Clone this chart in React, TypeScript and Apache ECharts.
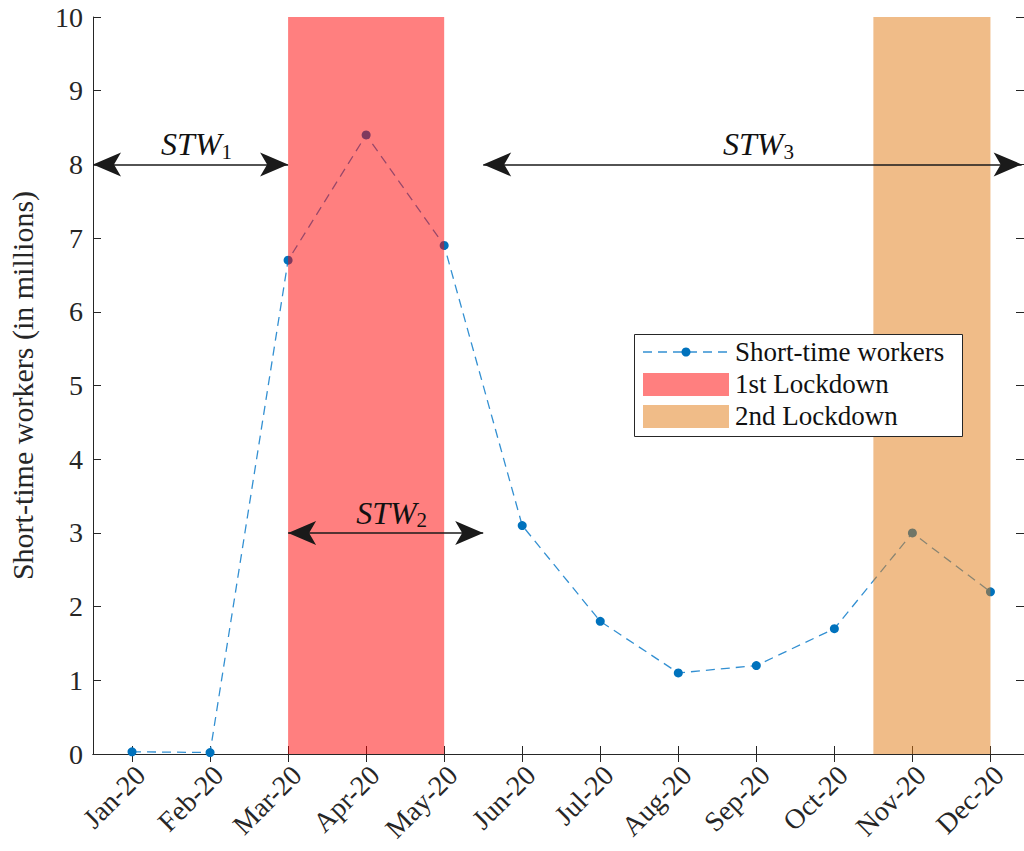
import { useEffect, useRef } from 'react';
import * as echarts from 'echarts';

// Monthly short-time workers in Germany, 2020 (millions)
const months = ['Jan-20', 'Feb-20', 'Mar-20', 'Apr-20', 'May-20', 'Jun-20', 'Jul-20', 'Aug-20', 'Sep-20', 'Oct-20', 'Nov-20', 'Dec-20'];
const monthPos = [1, 2, 3, 4, 5, 6, 7, 8, 9, 10, 11, 12];
const workers = [0.03, 0.02, 6.7, 8.4, 6.9, 3.1, 1.8, 1.1, 1.2, 1.7, 3.0, 2.2];

// Lockdown periods on the month axis
const firstLockdown = [3, 5];
const secondLockdown = [10.5, 12];

// Short-time work phases: index, start, end, height of the arrow
const stwIndex = ['1', '2', '3'];
const stwStart = [0.5, 3, 5.5];
const stwEnd = [3, 5.5, 12.4];
const stwLevel = [8, 3, 8];

const X_MIN = 0.5;
const X_MAX = 12.43;
const INK = '#262626';
const FONT = '"Liberation Serif", "DejaVu Serif", serif';

function buildOption(): echarts.EChartsOption {
  const axisCommon = {
    axisLine: { show: true, lineStyle: { color: INK, width: 1 } },
    splitLine: { show: false },
  };
  return {
    animation: false,
    backgroundColor: '#ffffff',
    grid: { left: 93, right: 0, top: 17, bottom: 97, containLabel: false, outerBoundsMode: 'none' } as any,
    xAxis: [
      {
        type: 'value',
        min: X_MIN,
        max: X_MAX,
        position: 'bottom',
        ...axisCommon,
        axisTick: { show: true, inside: true, length: 8, customValues: monthPos, lineStyle: { color: INK } },
        axisLabel: {
          show: true,
          customValues: monthPos,
          rotate: 45,
          margin: 8,
          color: INK,
          fontFamily: FONT,
          fontSize: 28,
          formatter: (v: number) => `{m|${months[Math.round(v) - 1] ?? ''}}`,
          rich: {
            m: { fontFamily: FONT, fontSize: 28, color: INK, padding: [24, 0, 0, 0] },
          },
        },
      } as any,
      {
        type: 'value',
        min: X_MIN,
        max: X_MAX,
        position: 'top',
        ...axisCommon,
        axisTick: { show: true, inside: true, length: 8, customValues: monthPos, lineStyle: { color: INK } },
        axisLabel: { show: false },
      } as any,
    ],
    yAxis: [
      {
        type: 'value',
        min: 0,
        max: 10,
        interval: 1,
        position: 'left',
        ...axisCommon,
        axisTick: { show: true, inside: true, length: 8, lineStyle: { color: INK } },
        axisLabel: { color: INK, fontFamily: FONT, fontSize: 28, margin: 10 },
        name: 'Short-time workers (in millions)',
        nameLocation: 'middle',
        nameGap: 56,
        nameRotate: 90,
        nameTextStyle: { color: INK, fontFamily: FONT, fontSize: 30 },
      },
      {
        type: 'value',
        min: 0,
        max: 10,
        interval: 1,
        position: 'right',
        ...axisCommon,
        axisTick: { show: true, inside: true, length: 8, lineStyle: { color: INK } },
        axisLabel: { show: false },
      },
    ],
    series: [
      {
        name: 'Short-time workers',
        type: 'line',
        z: 2,
        data: monthPos.map((m, i) => [m, workers[i]]),
        symbol: 'circle',
        symbolSize: 9,
        itemStyle: { color: '#0072BD' },
        lineStyle: { color: '#3390d2', width: 1.3, type: [9, 6] },
      },
      {
        name: 'Lockdowns',
        type: 'line',
        data: [],
        markArea: {
          z: 3,
          silent: true,
          data: [
            [
              { xAxis: firstLockdown[0], yAxis: 0, itemStyle: { color: 'rgba(255,0,0,0.5)' } },
              { xAxis: firstLockdown[1], yAxis: 10 },
            ],
            [
              { xAxis: secondLockdown[0], yAxis: 0, itemStyle: { color: 'rgba(225,121,17,0.5)' } },
              { xAxis: secondLockdown[1], yAxis: 10 },
            ],
          ],
        },
      },
      {
        name: 'STW',
        type: 'line',
        data: [],
        markLine: {
          z: 10,
          silent: true,
          symbol: ['arrow', 'arrow'],
          symbolSize: [18, 28],
          symbolOffset: [0, 0],
          lineStyle: { color: '#1a1a1a', width: 1.5, type: 'solid' },
          label: {
            show: true,
            position: 'middle',
            distance: 2,
            padding: [0, 0, 0, 12],
            formatter: (p: any) => `{m|STW}{s|${stwIndex[p.dataIndex]}}`,
            rich: {
              m: { fontFamily: FONT, fontStyle: 'italic', fontSize: 32, color: '#111', lineHeight: 34, verticalAlign: 'top' },
              s: { fontFamily: FONT, fontSize: 21, color: '#111', lineHeight: 22, verticalAlign: 'bottom' },
            },
          },
          data: stwIndex.map((_, i) => [
            { coord: [stwStart[i], stwLevel[i]] },
            { coord: [stwEnd[i], stwLevel[i]] },
          ]) as any,
        },
      },
    ],
    graphic: [
      {
        type: 'group',
        left: 634,
        top: 334,
        z: 100,
        children: [
          { type: 'rect', z: 100, shape: { x: 0.5, y: 0.5, width: 328, height: 102 }, style: { fill: '#fff', stroke: INK, lineWidth: 1 } },
          { type: 'line', z: 101, shape: { x1: 9, y1: 18, x2: 95, y2: 18 }, style: { stroke: '#3390d2', lineWidth: 1.3, lineDash: [9, 6] } },
          { type: 'circle', z: 102, shape: { cx: 52, cy: 18, r: 4.5 }, style: { fill: '#0072BD' } },
          { type: 'text', z: 102, style: { text: 'Short-time workers', x: 101, y: 18, verticalAlign: 'middle', fontFamily: FONT, fontSize: 27, fill: '#111' } },
          { type: 'rect', z: 101, shape: { x: 9, y: 39, width: 86, height: 23 }, style: { fill: 'rgba(255,0,0,0.5)' } },
          { type: 'text', z: 102, style: { text: '1st Lockdown', x: 101, y: 50, verticalAlign: 'middle', fontFamily: FONT, fontSize: 27, fill: '#111' } },
          { type: 'rect', z: 101, shape: { x: 9, y: 71, width: 86, height: 23 }, style: { fill: 'rgba(225,121,17,0.5)' } },
          { type: 'text', z: 102, style: { text: '2nd Lockdown', x: 101, y: 82, verticalAlign: 'middle', fontFamily: FONT, fontSize: 27, fill: '#111' } },
        ],
      },
    ],
  };
}

export default function App() {
  const ref = useRef<HTMLDivElement>(null);
  useEffect(() => {
    if (!ref.current) return;
    const chart = echarts.init(ref.current, null, { renderer: 'svg' });
    chart.setOption(buildOption());
    return () => chart.dispose();
  }, []);
  return (
    <div
      ref={ref}
      style={{ position: 'fixed', left: 0, top: 0, width: 1024, height: 851, background: '#fff' }}
    />
  );
}
